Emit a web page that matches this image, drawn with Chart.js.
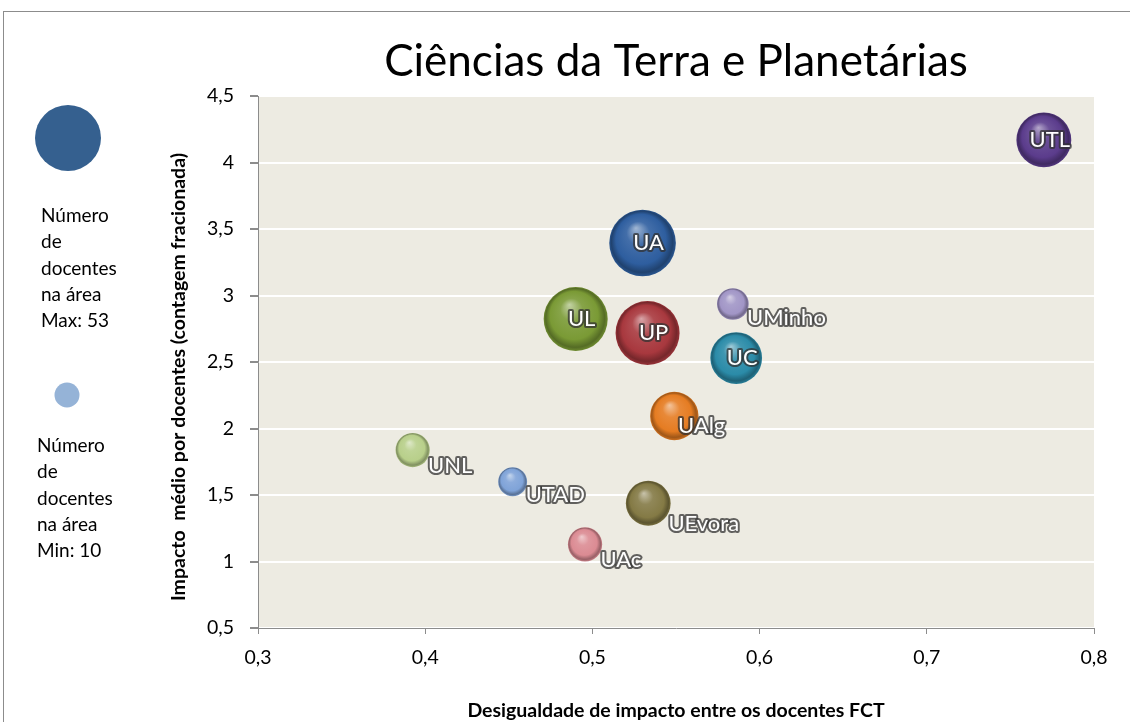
<!DOCTYPE html>
<html>
<head>
<meta charset="utf-8">
<script src="https://cdn.jsdelivr.net/npm/chart.js@4"></script>
<style>
  body { margin: 0; background: #fff; }
  #wrap { position: relative; width: 1130px; height: 722px; }
</style>
</head>
<body>
<div id="wrap"><canvas id="bubbleChart" width="1130" height="722"></canvas></div>
<script>
const universities = ['UTL', 'UA', 'UL', 'UP', 'UMinho', 'UC', 'UAlg', 'UNL', 'UTAD', 'UEvora', 'UAc'];
const inequality = [0.770, 0.530, 0.490, 0.533, 0.584, 0.586, 0.549, 0.3925, 0.4523, 0.5334, 0.4956];
const impact = [4.17, 3.395, 2.823, 2.718, 2.936, 2.53, 2.094, 1.838, 1.600, 1.438, 1.129];
const docentes = [36, 53, 49, 49, 12, 32, 28, 14, 10, 24, 14];
const xTicks = [0.3, 0.4, 0.5, 0.6, 0.7, 0.8];
const yTicks = [0.5, 1, 1.5, 2, 2.5, 3, 3.5, 4, 4.5];

const colors = ['#5B3C8C', '#2E5E9F', '#7A9A35', '#A8383E', '#A195C6', '#2B8BA8',
                '#E57C22', '#B8CF8A', '#7FA3D8', '#847A45', '#DB8B93'];
// 'c' = label in the middle of the bubble, 'br' = below right, 'r' = right
const labelMode = ['c', 'c', 'c', 'c', 'br', 'c', 'r', 'br', 'br', 'br', 'br'];

const FONT = 'Lato, "Open Sans", sans-serif';
const maxDocentes = 53;
const maxRadius = 33.3;

function fmt(v) {
    return String(Math.round(v * 10) / 10).replace('.', ',');
}

function shade(hex, amt) {
    // amt > 0 lighten towards white, < 0 darken
    const n = parseInt(hex.slice(1), 16);
    let r = n >> 16, g = (n >> 8) & 255, b = n & 255;
    if (amt >= 0) {
        r += (255 - r) * amt; g += (255 - g) * amt; b += (255 - b) * amt;
    } else {
        r *= 1 + amt; g *= 1 + amt; b *= 1 + amt;
    }
    return `rgb(${Math.round(r)},${Math.round(g)},${Math.round(b)})`;
}

function bubbleRadius(i) {
    return maxRadius * Math.sqrt(docentes[i] / maxDocentes);
}

function glossy(ctx) {
    const i = ctx.dataIndex;
    const base = colors[i];
    const chart = ctx.chart;
    if (!chart.chartArea || !chart.scales.x) return base;
    const cx = chart.scales.x.getPixelForValue(inequality[i]);
    const cy = chart.scales.y.getPixelForValue(impact[i]);
    const r = bubbleRadius(i);
    const g = chart.ctx.createRadialGradient(cx - r * 0.2, cy - r * 0.45, 0, cx, cy, r);
    g.addColorStop(0, shade(base, 0.55));
    g.addColorStop(0.35, shade(base, 0.1));
    g.addColorStop(0.75, base);
    g.addColorStop(0.92, shade(base, -0.3));
    g.addColorStop(1, shade(base, -0.1));
    return g;
}

const plotBackground = {
    id: 'plotBackground',
    beforeDraw(chart) {
        const { ctx, chartArea: a } = chart;
        ctx.save();
        ctx.fillStyle = '#fff';
        ctx.fillRect(0, 0, chart.width, chart.height);
        ctx.fillStyle = '#EDEBE2';
        ctx.fillRect(a.left, a.top, a.right - a.left, a.bottom - a.top);
        ctx.strokeStyle = '#8C8C8C';
        ctx.lineWidth = 1;
        ctx.strokeRect(3.5, 11.5, chart.width + 10, chart.height);
        ctx.restore();
    }
};

const sideNotes = {
    id: 'sideNotes',
    afterDraw(chart) {
        const { ctx } = chart;
        ctx.save();
        ctx.fillStyle = '#35608F';
        ctx.beginPath();
        ctx.arc(68, 138, 33, 0, Math.PI * 2);
        ctx.fill();
        ctx.fillStyle = '#95B3D7';
        ctx.beginPath();
        ctx.arc(67, 395, 12.5, 0, Math.PI * 2);
        ctx.fill();

        ctx.fillStyle = '#000';
        ctx.font = '19px ' + FONT;
        ctx.textBaseline = 'middle';
        ctx.textAlign = 'left';
        const top = ['Número', 'de', 'docentes', 'na área', 'Max: ' + Math.max(...docentes)];
        const bottom = ['Número', 'de', 'docentes', 'na área', 'Min: ' + Math.min(...docentes)];
        top.forEach((t, k) => ctx.fillText(t, 41, 216 + k * 26.2));
        bottom.forEach((t, k) => ctx.fillText(t, 37, 446 + k * 26.2));

        // chart heading
        ctx.font = '44px ' + FONT;
        ctx.textAlign = 'center';
        ctx.fillText('Ciências da Terra e Planetárias', (chart.chartArea.left + chart.chartArea.right) / 2, 62);

        // vertical axis title
        ctx.font = 'bold 19.5px ' + FONT;
        ctx.translate(179, 377);
        ctx.rotate(-Math.PI / 2);
        ctx.fillText('Impacto  médio por docentes (contagem fracionada)', 0, 0);
        ctx.restore();
    }
};

const bubbleLabels = {
    id: 'bubbleLabels',
    afterDatasetsDraw(chart) {
        const { ctx } = chart;
        const meta = chart.getDatasetMeta(0);
        ctx.save();
        ctx.font = '22px ' + FONT;
        ctx.textBaseline = 'middle';
        ctx.lineJoin = 'round';
        meta.data.forEach((el, i) => {
            const r = bubbleRadius(i);
            let x, y;
            if (labelMode[i] === 'c') {
                ctx.textAlign = 'center';
                x = el.x + 6; y = el.y;
            } else if (labelMode[i] === 'r') {
                ctx.textAlign = 'left';
                x = el.x + r * 0.15; y = el.y + r * 0.4;
            } else {
                ctx.textAlign = 'left';
                x = el.x + r * 0.9; y = el.y + r * 0.9;
            }
            ctx.strokeStyle = 'rgba(50,50,50,0.75)';
            ctx.lineWidth = 4;
            ctx.strokeText(universities[i], x, y);
            ctx.fillStyle = '#fff';
            ctx.fillText(universities[i], x, y);
        });
        ctx.restore();
    }
};

new Chart(document.getElementById('bubbleChart').getContext('2d'), {
    type: 'bubble',
    data: {
        datasets: [{
            data: universities.map((u, i) => ({ x: inequality[i], y: impact[i] })),
            radius: ctx => bubbleRadius(ctx.dataIndex),
            backgroundColor: glossy,
            borderWidth: 0,
            clip: false
        }]
    },
    options: {
        responsive: false,
        animation: false,
        events: [],
        layout: { padding: { left: 150, right: 36, top: 96, bottom: 0 } },
        plugins: {
            legend: { display: false },
            tooltip: { enabled: false }
        },
        scales: {
            x: {
                type: 'linear',
                min: 0.3,
                max: 0.8,
                afterFit: s => { s.height = 94; },
                afterBuildTicks: s => { s.ticks = xTicks.map(v => ({ value: v })); },
                ticks: { callback: fmt, color: '#000', padding: 12, font: { family: FONT, size: 19.5 } },
                grid: { drawOnChartArea: false, tickLength: 6, tickColor: '#8C8C8C' },
                border: { color: '#8C8C8C' },
                title: {
                    display: true,
                    text: 'Desigualdade de impacto entre os docentes FCT',
                    color: '#000',
                    padding: { top: 0, bottom: 0 },
                    font: { family: FONT, size: 19.5, weight: 'bold' }
                }
            },
            y: {
                type: 'linear',
                min: 0.5,
                max: 4.5,
                afterFit: s => { s.width = 108; },
                afterBuildTicks: s => { s.ticks = yTicks.map(v => ({ value: v })); },
                ticks: { callback: fmt, color: '#000', padding: 16, font: { family: FONT, size: 19.5 } },
                grid: { color: '#FFFFFF', lineWidth: 2, tickLength: 8, tickColor: '#8C8C8C' },
                border: { color: '#8C8C8C' }
            }
        }
    },
    plugins: [plotBackground, sideNotes, bubbleLabels]
});
</script>
</body>
</html>
